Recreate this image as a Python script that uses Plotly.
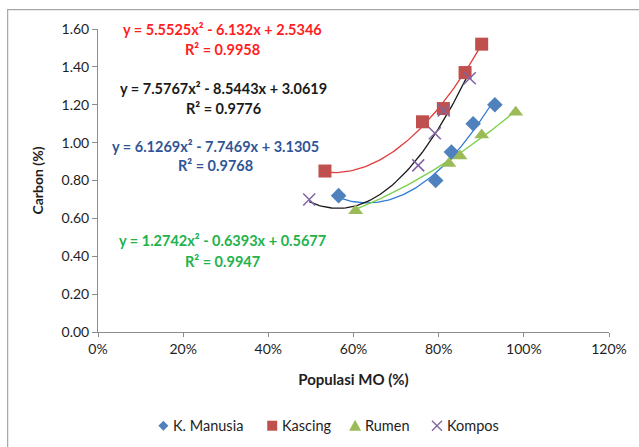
import numpy as np
import plotly.graph_objects as go

# ---- data (x as fraction of Populasi MO, y = Carbon %) ----
series_names = ["K. Manusia", "Kascing", "Rumen", "Kompos"]
manusia_x = [0.565, 0.793, 0.830, 0.881, 0.932]
manusia_y = [0.72, 0.80, 0.95, 1.10, 1.20]
kascing_x = [0.533, 0.762, 0.811, 0.862, 0.901]
kascing_y = [0.85, 1.11, 1.18, 1.37, 1.52]
rumen_x = [0.605, 0.824, 0.850, 0.901, 0.981]
rumen_y = [0.64, 0.89, 0.93, 1.04, 1.16]
kompos_x = [0.496, 0.752, 0.791, 0.812, 0.873]
kompos_y = [0.70, 0.88, 1.05, 1.17, 1.34]

# trendline coefficients (a, b, c) as printed on the chart
manusia_coef = [6.1269, -7.7469, 3.1305]
kascing_coef = [5.5525, -6.132, 2.5346]
rumen_coef = [1.2742, -0.6393, 0.5677]
kompos_coef = [7.5767, -8.5443, 3.0619]
manusia_r2 = "0.9768"
kascing_r2 = "0.9958"
rumen_r2 = "0.9947"
kompos_r2 = "0.9776"

x_ticks = [0, 0.2, 0.4, 0.6, 0.8, 1.0, 1.2]
y_ticks = [0, 0.2, 0.4, 0.6, 0.8, 1.0, 1.2, 1.4, 1.6]

FONT = "Lato"
TXT = "#1E1E1E"
W, H = 639, 447
ML, MR, MT, MB = 97.5, 29.7, 29.3, 114.7
PW, PH = W - ML - MR, H - MT - MB
XR, YR = [0, 1.2], [0, 1.6]
colors = ["#4F81BD", "#C0504D", "#9BBB59", "#8064A2"]

fig = go.Figure()

def trend(xs, coef, color):
    xx = np.linspace(min(xs), max(xs), 80)
    yy = coef[0] * xx**2 + coef[1] * xx + coef[2]
    fig.add_trace(go.Scatter(x=xx, y=yy, mode="lines", showlegend=False,
                             hoverinfo="skip", line=dict(color=color, width=1.3)))

trend(manusia_x, manusia_coef, "#2E7BD6")
trend(kascing_x, kascing_coef, "#E03C3C")
trend(rumen_x, rumen_coef, "#7AD04A")
trend(kompos_x, kompos_coef, "#1A1A1A")

markers = [
    dict(symbol="diamond", size=12, color=colors[0]),
    dict(symbol="square", size=13, color=colors[1]),
    dict(symbol="triangle-up", size=13, color=colors[2]),
    dict(symbol="x-thin", size=12, color=colors[3], line=dict(color=colors[3], width=1.5)),
]
xs_all = [manusia_x, kascing_x, rumen_x, kompos_x]
ys_all = [manusia_y, kascing_y, rumen_y, kompos_y]
for name, mk, xs, ys in zip(series_names, markers, xs_all, ys_all):
    fig.add_trace(go.Scatter(x=xs, y=ys, mode="markers", name=name, marker=mk, showlegend=False))

# ---- pixel -> paper helpers ----
def pxp(px):
    return (px - ML) / PW

def pyp(py):
    return (H - MB - py) / PH

def path(points, close=True):
    s = " ".join(("M" if i == 0 else "L") + " %.5f,%.5f" % (pxp(a), pyp(b))
                 for i, (a, b) in enumerate(points))
    return s + (" Z" if close else "")

# ---- manual legend ----
legend_sym_px = [163, 272, 355, 437]
ly = 426
r = 5
cx = legend_sym_px[0]
fig.add_shape(type="path", xref="paper", yref="paper",
              path=path([(cx, ly - r), (cx + r, ly), (cx, ly + r), (cx - r, ly)]),
              fillcolor=colors[0], line=dict(width=0))
cx = legend_sym_px[1]
fig.add_shape(type="path", xref="paper", yref="paper",
              path=path([(cx - 5, ly - 5), (cx + 5, ly - 5), (cx + 5, ly + 5), (cx - 5, ly + 5)]),
              fillcolor=colors[1], line=dict(width=0))
cx = legend_sym_px[2]
fig.add_shape(type="path", xref="paper", yref="paper",
              path=path([(cx, ly - 6), (cx + 6, ly + 5), (cx - 6, ly + 5)]),
              fillcolor=colors[2], line=dict(width=0))
cx = legend_sym_px[3]
fig.add_shape(type="path", xref="paper", yref="paper",
              path=path([(cx - 5, ly - 5), (cx + 5, ly + 5)], close=False),
              line=dict(color=colors[3], width=1.3))
fig.add_shape(type="path", xref="paper", yref="paper",
              path=path([(cx + 5, ly - 5), (cx - 5, ly + 5)], close=False),
              line=dict(color=colors[3], width=1.3))
for name, sx in zip(series_names, legend_sym_px):
    fig.add_annotation(x=pxp(sx + 8), y=pyp(ly), xref="paper", yref="paper",
                       text=name, showarrow=False, xanchor="left", yanchor="middle",
                       font=dict(family=FONT, size=14.5, color=TXT))

def eq_text(coef):
    return "y = %gx² - %gx + %g" % (coef[0], -coef[1], coef[2])

labels = [
    (kascing_coef, kascing_r2, "#FF2020", 222, 30, 50),
    (kompos_coef, kompos_r2, "#1A1A1A", 223, 89, 109),
    (manusia_coef, manusia_r2, "#2F5597", 215, 147, 166),
    (rumen_coef, rumen_r2, "#22B24C", 222, 241, 262),
]
for coef, r2, col, xc, y1, y2 in labels:
    fig.add_annotation(x=pxp(xc), y=pyp(y1), xref="paper", yref="paper", text=eq_text(coef),
                       xanchor="center", yanchor="middle", showarrow=False,
                       font=dict(family=FONT, size=14.5, color=col, weight="bold"))
    fig.add_annotation(x=pxp(xc), y=pyp(y2), xref="paper", yref="paper", text="R² = " + r2,
                       xanchor="center", yanchor="middle", showarrow=False,
                       font=dict(family=FONT, size=14.5, color=col, weight="bold"))

# outer chart border
fig.add_shape(type="rect", xref="paper", yref="paper",
              x0=pxp(7), x1=pxp(W + 20), y0=pyp(H + 20), y1=pyp(10),
              line=dict(color="#A6A6A6", width=1.2), layer="above")

fig.update_layout(
    width=W, height=H,
    margin=dict(l=ML, r=MR, t=MT, b=MB),
    paper_bgcolor="white", plot_bgcolor="white",
    font=dict(family=FONT, size=13, color=TXT),
    showlegend=False,
    xaxis=dict(range=XR, tickvals=x_ticks, tickformat=".0%", showgrid=False, zeroline=False,
               showline=True, linecolor="#8C8C8C", linewidth=1, ticks="outside", ticklen=4,
               tickcolor="#8C8C8C", tickfont=dict(family=FONT, size=14, color=TXT),
               automargin=False,
               title=dict(text="Populasi MO (%)", standoff=18,
                          font=dict(family=FONT, size=15, color=TXT, weight="bold"))),
    yaxis=dict(range=YR, tickvals=y_ticks, tickformat=".2f", showgrid=False, zeroline=False,
               showline=True, linecolor="#8C8C8C", linewidth=1, ticks="outside", ticklen=5,
               tickcolor="#8C8C8C", tickfont=dict(family=FONT, size=14, color=TXT),
               automargin=False,
               title=dict(text="Carbon (%)", standoff=14,
                          font=dict(family=FONT, size=14, color=TXT, weight="bold"))),
)

fig.write_html("out.html", config={"displayModeBar": False},
               post_script="document.body.style.margin='0px';")
